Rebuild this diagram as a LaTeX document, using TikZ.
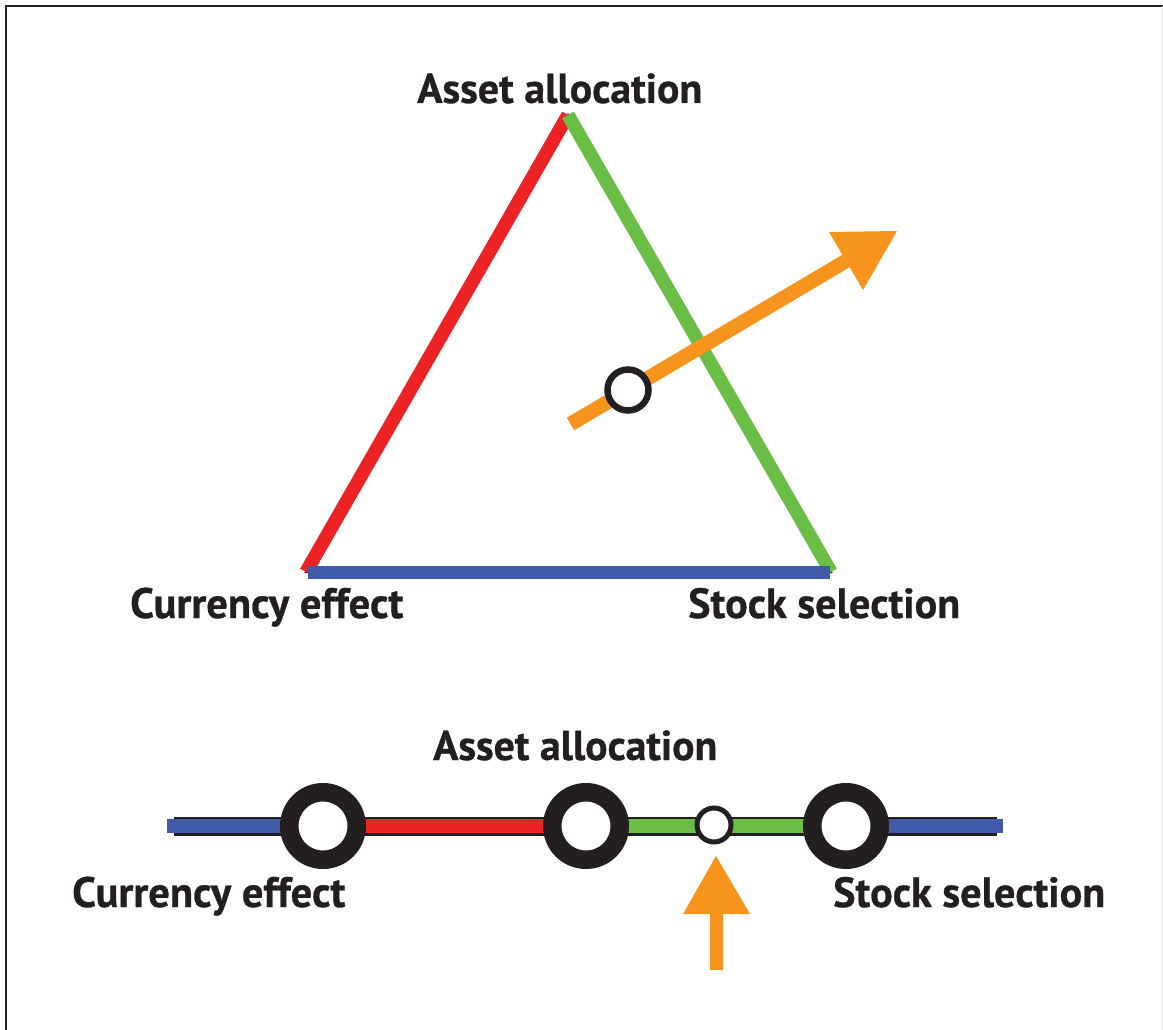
\documentclass[tikz,border=0pt]{standalone}
\usepackage{fontspec}
\setmainfont{PT Sans}
\newfontfamily\lblfont{PT Sans Bold}[FakeBold=0.7]
\usepackage{graphicx}
\definecolor{ink}{HTML}{231F20}
\definecolor{cred}{HTML}{ED2224}
\definecolor{cgreen}{HTML}{6ABD45}
\definecolor{cblue}{HTML}{3F5BA9}
\definecolor{corange}{HTML}{F7941D}
\tikzset{
  lbl/.style={anchor=base west, inner sep=0pt, text=ink, font=\lblfont},
  edge/.style={line width=13.5pt, line cap=butt},
  bar/.style={line width=14pt, line cap=butt},
  bigring/.style={circle, draw=ink, fill=white, line width=18.5pt, minimum size=67.5pt, inner sep=0pt},
  smallring/.style={circle, draw=ink, fill=white, line width=5pt, minimum size=34pt, inner sep=0pt},
  arrowhead/.style={fill=corange, draw=none},
}
\newcommand{\lab}[2]{\resizebox{#1pt}{!}{#2}}
\begin{document}
\begin{tikzpicture}[x=1pt,y=-1pt]
\useasboundingbox (0,0) rectangle (1163,1030);
% frame
\draw[ink, line width=2pt] (6,1030) -- (6,6) -- (1163,6);
\draw[black!12, line width=1pt] (1162.5,6) -- (1162.5,1030);

% ---------- triangle ----------
\coordinate (A) at (568,115);
\coordinate (B) at (306,572);
\coordinate (C) at (831,572);
\draw[ink, line width=2pt, line join=miter] (A) -- (B) -- (C) -- cycle;
\draw[edge, cred] (B) -- (A);
\draw[edge, cgreen] (A) -- (C);
\draw[cblue, line width=13pt, line cap=butt] (308,572) -- (830,572);

% orange arrow
\coordinate (tail) at (570.5,424);
\coordinate (hm) at (846,261);
\coordinate (h1) at (829,232);
\coordinate (h2) at (863,290);
\coordinate (tip) at (897,231);
\draw[corange, line width=14.5pt, line cap=butt] (tail) -- (hm);
\fill[arrowhead] (h1) -- (tip) -- (h2) -- cycle;
\node[circle, draw=ink, fill=white, line width=6.5pt, minimum size=41pt, inner sep=0pt] (pt) at (628,390) {};

\node[lbl] (tA) at (417,103) {\lab{285}{Asset allocation}};
\node[lbl] (tB) at (130,618) {\lab{273}{Currency effect}};
\node[lbl] (tC) at (688,618) {\lab{272}{Stock selection}};

% ---------- line ----------
\draw[ink, line width=19pt, line cap=butt] (174,826) -- (997,826);
\draw[bar, cblue] (167,826) -- (300,826);
\draw[bar, cred] (340,826) -- (560,826);
\draw[bar, cgreen] (610,826) -- (820,826);
\draw[bar, cblue] (870,826) -- (1003,826);
\node[bigring] (r1) at (323,826) {};
\node[bigring] (r2) at (586,826) {};
\node[bigring] (r3) at (846,826) {};
\node[smallring] (s) at (714,825) {};

% up arrow
\coordinate (ub) at (716,970);
\coordinate (um) at (716,914);
\coordinate (u1) at (683,914);
\coordinate (u2) at (750,914);
\coordinate (utip) at (716,856);
\draw[corange, line width=13pt, line cap=butt] (ub) -- (um);
\fill[arrowhead] (u1) -- (utip) -- (u2) -- cycle;

\node[lbl] (bA) at (433,760) {\lab{284}{Asset allocation}};
\node[lbl] (bB) at (72,907) {\lab{273}{Currency effect}};
\node[lbl] (bC) at (833,907) {\lab{272}{Stock selection}};
\end{tikzpicture}
\end{document}
